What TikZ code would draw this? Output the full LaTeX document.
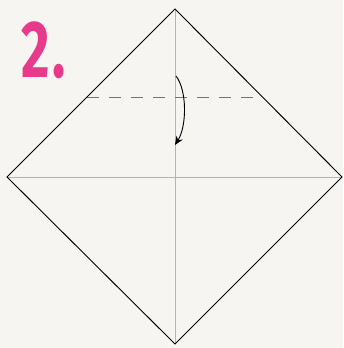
\documentclass[tikz,border=0pt]{standalone}
\usepackage{fontspec}
\newfontfamily\stepfont{Fira Sans}
\usetikzlibrary{arrows.meta,positioning}
\definecolor{paper}{RGB}{247,245,241}
\definecolor{steppink}{RGB}{232,58,138}
\definecolor{crease}{RGB}{180,180,180}

\begin{document}
\begin{tikzpicture}[
  x=0.3mm,y=0.3mm,
  edge/.style={draw=black,line width=0.8pt,line join=miter},
  fold/.style={draw=crease,line width=0.8pt},
  valley/.style={draw=black!55,line width=0.7pt,dash pattern=on 3.6mm off 3mm},
  turn/.style={-{Stealth[length=2.6mm,width=2.2mm]},line width=0.8pt,draw=black}
]
\fill[paper] (0,0) rectangle (343,348);
\useasboundingbox (0,0) rectangle (343,348);
% paper corners
\coordinate (top) at (175,339);
\coordinate (left) at (7,171);
\coordinate (right) at (342,171);
\coordinate (bottom) at (175,4);
\coordinate (dashl) at (87,251);
\coordinate (dashr) at (263,251);
\coordinate (from) at (176,272);
\coordinate (to) at (175,203);
% creases
\draw[fold] (top) -- (bottom);
\draw[fold] (left) -- (right);
\draw[valley] (dashl) -- (dashr);
\draw[edge] (top) -- (right) -- (bottom) -- (left) -- cycle;
\draw[turn] (from) .. controls (187,258) and (187,222) .. (to);
\node[anchor=base west,inner sep=0pt,text=steppink,xscale=0.68,font=\stepfont\bfseries\fontsize{69}{69}\selectfont] (num) at (21,270) {2\kern0.06em.};
\end{tikzpicture}
\end{document}
